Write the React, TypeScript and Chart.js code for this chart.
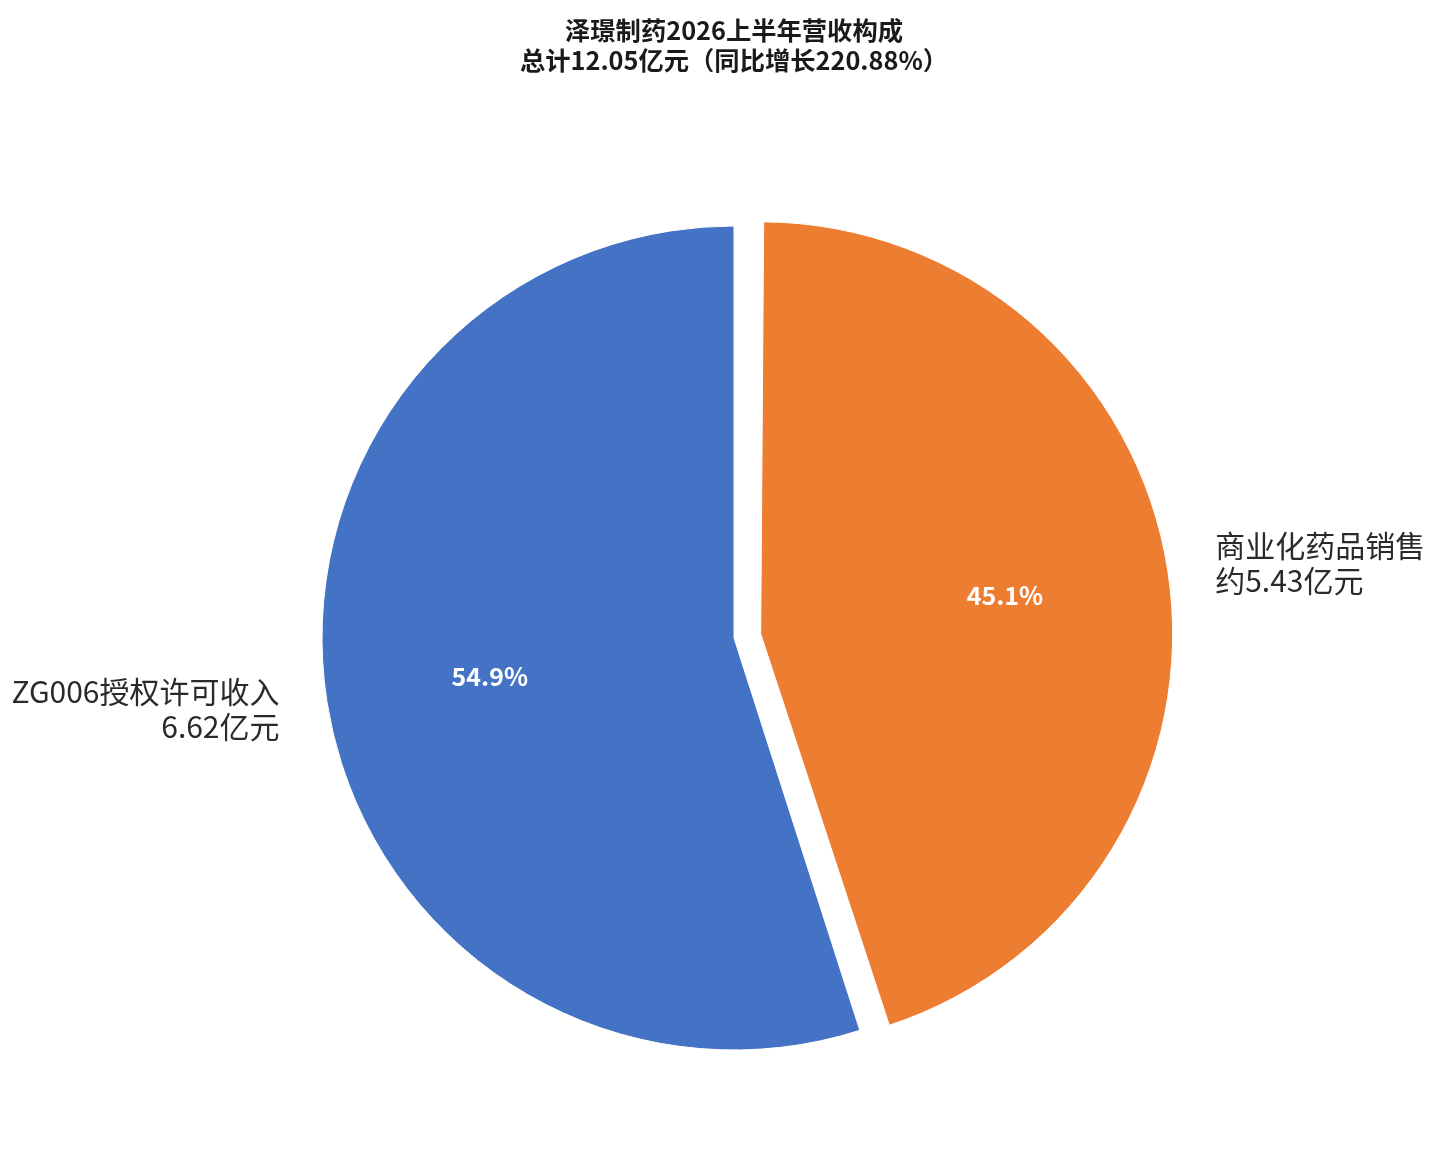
import React, { useEffect, useRef } from "react";
import { Chart, registerables } from "chart.js";

Chart.register(...registerables);

const categories = ["商业化药品销售", "ZG006授权许可收入"];
const values = [5.43, 6.62];
const valueLabels = ["约5.43亿元", "6.62亿元"];
const colors = ["#ED7D31", "#4472C4"];
// Chart.js translates an arc by offset/4
const sliceOffsets = [108, 0];
const titleLines = ["泽璟制药2026上半年营收构成", "总计12.05亿元（同比增长220.88%）"];

const FONT = "'Noto Sans CJK SC', 'Noto Sans', sans-serif";
const RADIUS = 412;

// keep the exploded slice the same radius as the others (Chart.js grows it slightly)
const radiusFixPlugin = {
  id: "radiusFix",
  afterDatasetUpdate(chart: any) {
    const meta = chart.getDatasetMeta(0);
    meta.data.forEach((arc: any, i: number) => {
      const off = (sliceOffsets[i] || 0) / 4;
      const circ = arc.endAngle - arc.startAngle;
      const fix = 1 - Math.sin(Math.min(Math.PI, circ || 0));
      arc.outerRadius = RADIUS - off * fix;
    });
  },
};

const labelPlugin = {
  id: "sliceLabels",
  afterDatasetsDraw(chart: any) {
    const ctx = chart.ctx;
    const meta = chart.getDatasetMeta(0);
    const total = values.reduce((a, b) => a + b, 0);
    meta.data.forEach((arc: any, i: number) => {
      const { x, y, startAngle, endAngle } = arc.getProps(["x", "y", "startAngle", "endAngle"], true);
      const mid = (startAngle + endAngle) / 2;
      const off = sliceOffsets[i] / 4;
      const cx = x + Math.cos(mid) * off;
      const cy = y + Math.sin(mid) * off;
      ctx.save();
      const pr = RADIUS * 0.6;
      ctx.font = `bold 25px ${FONT}`;
      ctx.fillStyle = "#ffffff";
      ctx.textAlign = "center";
      ctx.textBaseline = "middle";
      ctx.fillText(
        ((values[i] / total) * 100).toFixed(1) + "%",
        cx + Math.cos(mid) * pr,
        cy + Math.sin(mid) * pr
      );
      const lr = RADIUS + 48;
      const lx = cx + Math.cos(mid) * lr;
      const ly = cy + Math.sin(mid) * lr;
      ctx.font = `30px ${FONT}`;
      ctx.fillStyle = "#2a2a2a";
      ctx.textAlign = Math.cos(mid) >= 0 ? "left" : "right";
      ctx.fillText(categories[i], lx, ly - 17.5);
      ctx.fillText(valueLabels[i], lx, ly + 17.5);
      ctx.restore();
    });
  },
};

export default function App() {
  const ref = useRef<HTMLCanvasElement>(null);
  useEffect(() => {
    document.body.style.margin = "0";
    document.body.style.background = "#ffffff";
    if (!ref.current) return;
    const chart = new Chart(ref.current, {
      type: "pie",
      data: {
        labels: categories,
        datasets: [
          {
            data: values,
            backgroundColor: colors,
            borderColor: "#ffffff",
            borderWidth: 1,
            offset: sliceOffsets,
          },
        ],
      },
      options: {
        responsive: false,
        animation: false,
        radius: RADIUS,
        layout: { padding: { left: 28, right: 0, top: 0, bottom: 3 } },
        plugins: {
          legend: { display: false },
          tooltip: { enabled: false },
          title: {
            display: true,
            text: titleLines,
            color: "#1a1a1a",
            font: { family: FONT, size: 25.3, weight: "bold", lineHeight: 30 / 25.3 },
            padding: { top: 15, bottom: 40 },
          },
        },
      },
      plugins: [radiusFixPlugin, labelPlugin],
    } as any);
    return () => chart.destroy();
  }, []);
  return (
    <div style={{ width: 1440, height: 1164, background: "#fff" }}>
      <canvas ref={ref} width={1440} height={1164} style={{ display: "block" }} />
    </div>
  );
}
